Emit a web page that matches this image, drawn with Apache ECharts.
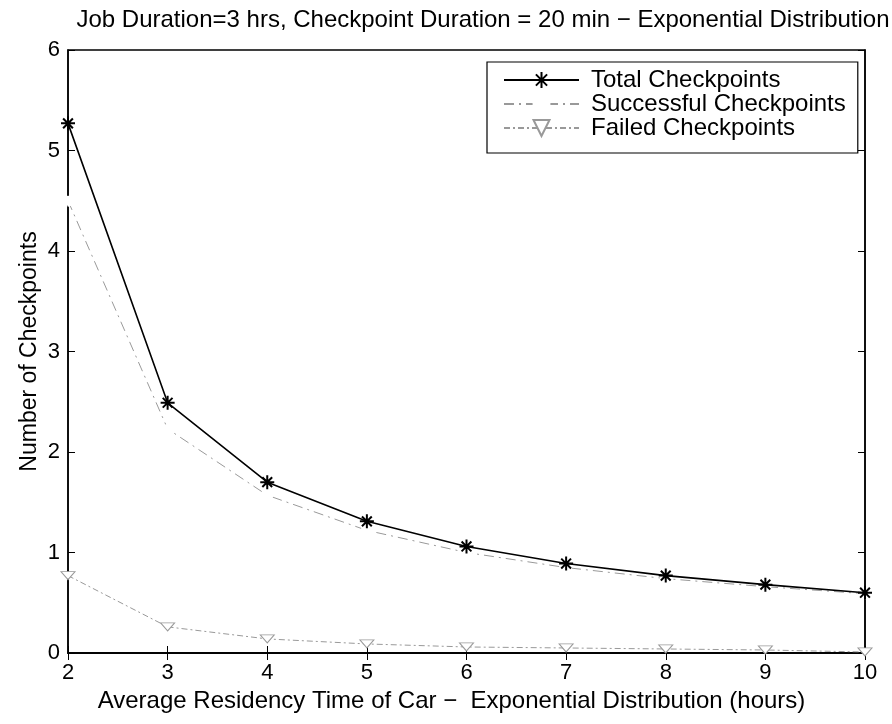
<!DOCTYPE html>
<html><head><meta charset="utf-8">
<script src="https://cdn.jsdelivr.net/npm/echarts@6/dist/echarts.min.js"></script>
<style>html,body{margin:0;padding:0;background:#fff}#c{width:892px;height:724px}</style>
</head><body><div id="c"></div>
<script>
const xValues = [2, 3, 4, 5, 6, 7, 8, 9, 10];
const totalCheckpoints = [5.27, 2.49, 1.70, 1.31, 1.06, 0.89, 0.77, 0.68, 0.60];
const successfulCheckpoints = [4.50, 2.23, 1.57, 1.22, 1.00, 0.85, 0.74, 0.66, 0.59];
const failedCheckpoints = [0.77, 0.26, 0.14, 0.09, 0.06, 0.05, 0.04, 0.03, 0.01];
const seriesNames = ['Total Checkpoints', 'Successful Checkpoints', 'Failed Checkpoints'];

const toPairs = arr => xValues.map((x, i) => [x, arr[i]]);
const font = 'Liberation Sans, Arial, sans-serif';

const chart = echarts.init(document.getElementById('c'));
chart.setOption({
  animation: false,
  title: {
    text: 'Job Duration=3 hrs, Checkpoint Duration = 20 min \u2212 Exponential Distribution',
    left: 478, top: 3, textAlign: 'center',
    textStyle: { fontFamily: font, fontSize: 24, fontWeight: 'normal', color: '#000' }
  },
  grid: { left: 68, right: 27, top: 50, bottom: 71, show: true, borderColor: '#000', borderWidth: 1.5 },
  legend: {
    left: 487, top: 62, orient: 'vertical',
    backgroundColor: '#fff', borderColor: '#000', borderWidth: 1.2,
    padding: [6, 12, 13, 16], itemGap: 0,
    itemWidth: 75, itemHeight: 20,
    textStyle: { fontFamily: font, fontSize: 24, color: '#000', padding: [0, 0, 0, 7] },
    data: seriesNames
  },
  xAxis: [{
    type: 'value', min: 2, max: 10, interval: 1,
    name: 'Average Residency Time of Car \u2212  Exponential Distribution (hours)',
    nameLocation: 'middle', nameGap: 30,
    nameTextStyle: { fontFamily: font, fontSize: 24, color: '#000', padding: [0, 30, 0, 0] },
    axisLine: { show: true, lineStyle: { color: '#000', width: 1.5 } },
    axisTick: { inside: true, length: 7, lineStyle: { color: '#000' } },
    axisLabel: { fontFamily: font, fontSize: 22, color: '#000', margin: 9 },
    splitLine: { show: false }
  }, {
    type: 'value', min: 2, max: 10, interval: 1, position: 'top',
    axisLine: { show: true, lineStyle: { color: '#000', width: 1.5 } },
    axisTick: { inside: true, length: 7, lineStyle: { color: '#000' } },
    axisLabel: { show: false }, splitLine: { show: false }
  }],
  yAxis: [{
    type: 'value', min: 0, max: 6, interval: 1,
    name: 'Number of Checkpoints',
    nameLocation: 'middle', nameGap: 27, nameMoveOverlap: false,
    nameTextStyle: { fontFamily: font, fontSize: 23, color: '#000' },
    axisLine: { show: true, lineStyle: { color: '#000', width: 1.5 } },
    axisTick: { inside: true, length: 7, lineStyle: { color: '#000' } },
    axisLabel: { fontFamily: font, fontSize: 22, color: '#000', margin: 8 },
    splitLine: { show: false }
  }, {
    type: 'value', min: 0, max: 6, interval: 1, position: 'right',
    axisLine: { show: true, lineStyle: { color: '#000', width: 1.5 } },
    axisTick: { inside: true, length: 7, lineStyle: { color: '#000' } },
    axisLabel: { show: false }, splitLine: { show: false }
  }],
  series: [{
    name: seriesNames[0], type: 'line', data: toPairs(totalCheckpoints),
    symbol: 'path://M0,-10L0,10M-10,0L10,0M-7,-7L7,7M-7,7L7,-7', symbolSize: 14,
    color: '#000',
    itemStyle: { color: '#000', borderColor: '#000', borderWidth: 2 },
    lineStyle: { color: '#000', width: 1.6, type: 'solid' },
    z: 5
  }, {
    name: seriesNames[1], type: 'line', data: toPairs(successfulCheckpoints),
    symbol: 'emptyCircle', symbolSize: 10,
    color: '#999',
    itemStyle: { color: '#fff', borderColor: '#aaa', borderWidth: 1, borderType: 'dashed' },
    lineStyle: { color: '#999', width: 1, type: [10, 5, 2, 5] },
    z: 4
  }, {
    name: seriesNames[2], type: 'line', data: toPairs(failedCheckpoints),
    symbol: 'triangle', symbolRotate: 180, symbolSize: [14, 8],
    color: '#999',
    itemStyle: { color: '#fff', borderColor: '#999', borderWidth: 1 },
    lineStyle: { color: '#999', width: 1, type: [6, 3, 2, 3] },
    z: 3
  }]
});
</script></body></html>
